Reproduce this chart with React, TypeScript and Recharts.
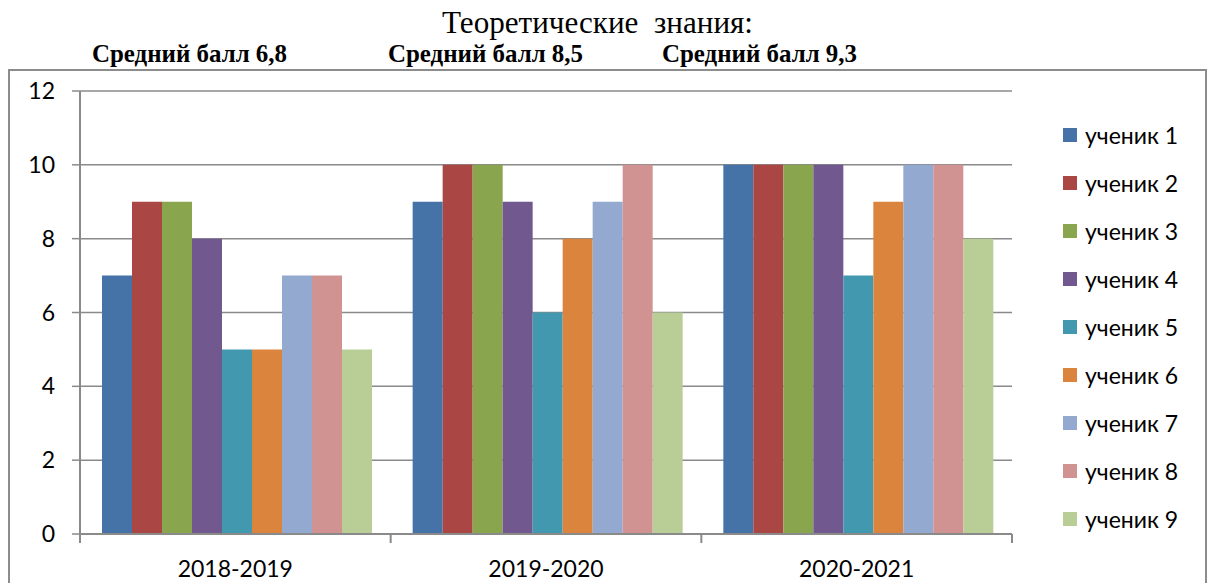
import React from 'react';
import { BarChart, Bar, XAxis, YAxis, CartesianGrid } from 'recharts';

const categories = ['2018-2019', '2019-2020', '2020-2021'];
const seriesNames = ['ученик 1', 'ученик 2', 'ученик 3', 'ученик 4', 'ученик 5', 'ученик 6', 'ученик 7', 'ученик 8', 'ученик 9'];
const student1 = [7, 9, 10];
const student2 = [9, 10, 10];
const student3 = [9, 10, 10];
const student4 = [8, 9, 10];
const student5 = [5, 6, 7];
const student6 = [5, 8, 9];
const student7 = [7, 9, 10];
const student8 = [7, 10, 10];
const student9 = [5, 6, 8];
const yTicks = [0, 2, 4, 6, 8, 10, 12];
const titleText = 'Теоретические  знания:';
const averageLabels = ['Средний балл 6,8', 'Средний балл 8,5', 'Средний балл 9,3'];

const colors = ['#4572A7', '#AA4643', '#89A54E', '#71588F', '#4198AF', '#DB843D', '#93A9CF', '#D19392', '#B9CD96'];
const allSeries = [student1, student2, student3, student4, student5, student6, student7, student8, student9];

const data = categories.map((c, i) => {
  const row: Record<string, string | number> = { category: c };
  seriesNames.forEach((n, j) => {
    row[n] = allSeries[j][i];
  });
  return row;
});

const AXIS = '#8a8a8a';
const FONT = "Lato, 'Open Sans', sans-serif";
const SERIF = "'Liberation Serif', 'Times New Roman', serif";

function XTick(props: any) {
  const { x, y, payload, index } = props;
  const off = payload && payload.offset ? payload.offset : 0;
  const last = index === categories.length - 1;
  return (
    <g>
      <line x1={x - off} x2={x - off} y1={y} y2={y + 9} stroke={AXIS} strokeWidth={2} />
      {last && <line x1={x + off} x2={x + off} y1={y} y2={y + 9} stroke={AXIS} strokeWidth={2} />}
      <text x={x} y={y + 43} textAnchor="middle" fill="#000" fontSize={23} fontFamily={FONT}>
        {payload.value}
      </text>
    </g>
  );
}

function LegendBlock() {
  return (
    <div style={{ position: 'absolute', left: 1063, top: 111, width: 150, display: 'flex', flexDirection: 'column' }}>
      {seriesNames.map((n, i) => (
        <div key={n} style={{ height: 48, display: 'flex', alignItems: 'center' }}>
          <span style={{ width: 14, height: 14, background: colors[i], display: 'inline-block', marginRight: 8 }} />
          <span style={{ fontFamily: FONT, fontSize: 23, color: '#000', lineHeight: '23px' }}>{n}</span>
        </div>
      ))}
    </div>
  );
}

export default function App() {
  const avgX = [92, 388, 662];
  return (
    <div style={{ position: 'absolute', left: 0, top: 0, width: 1213, height: 583, overflow: 'hidden', background: '#fff' }}>
      <div
        style={{
          position: 'absolute',
          left: 8,
          top: 69,
          width: 1199,
          height: 600,
          boxSizing: 'border-box',
          border: '2px solid #8c8c8c',
        }}
      />
      <svg width={1213} height={70} style={{ position: 'absolute', left: 0, top: 0 }}>
        <text x={442} y={33} fontFamily={SERIF} fontSize={31} textLength={311} lengthAdjust="spacingAndGlyphs" fill="#000" style={{ whiteSpace: 'pre' }}>
          {titleText}
        </text>
        {averageLabels.map((t, i) => (
          <text key={t} x={avgX[i]} y={62} fontFamily={SERIF} fontWeight="bold" fontSize={26} textLength={195} lengthAdjust="spacingAndGlyphs" fill="#000">
            {t}
          </text>
        ))}
      </svg>
      <div style={{ position: 'absolute', left: 0, top: 0 }}>
        <BarChart
          width={1213}
          height={583}
          data={data}
          margin={{ top: 91, right: 201, bottom: 0, left: 0 }}
          barCategoryGap={22}
          barGap={0}
        >
          <CartesianGrid horizontal vertical={false} stroke={AXIS} strokeWidth={1.5} />
          <XAxis
            dataKey="category"
            height={49}
            tickLine={false}
            tickSize={0}
            tickMargin={0}
            axisLine={{ stroke: AXIS, strokeWidth: 2 }}
            tick={<XTick />}
            interval={0}
          />
          <YAxis
            width={80}
            domain={[0, 12]}
            ticks={yTicks}
            interval={0}
            tickSize={8}
            tickMargin={17}
            axisLine={{ stroke: AXIS, strokeWidth: 2 }}
            tickLine={{ stroke: AXIS, strokeWidth: 1.5 }}
            tick={{ fill: '#000', fontSize: 23, fontFamily: FONT }}
          />
          {seriesNames.map((n, i) => (
            <Bar key={n} dataKey={n} fill={colors[i]} isAnimationActive={false} />
          ))}
        </BarChart>
      </div>
      <LegendBlock />
    </div>
  );
}
